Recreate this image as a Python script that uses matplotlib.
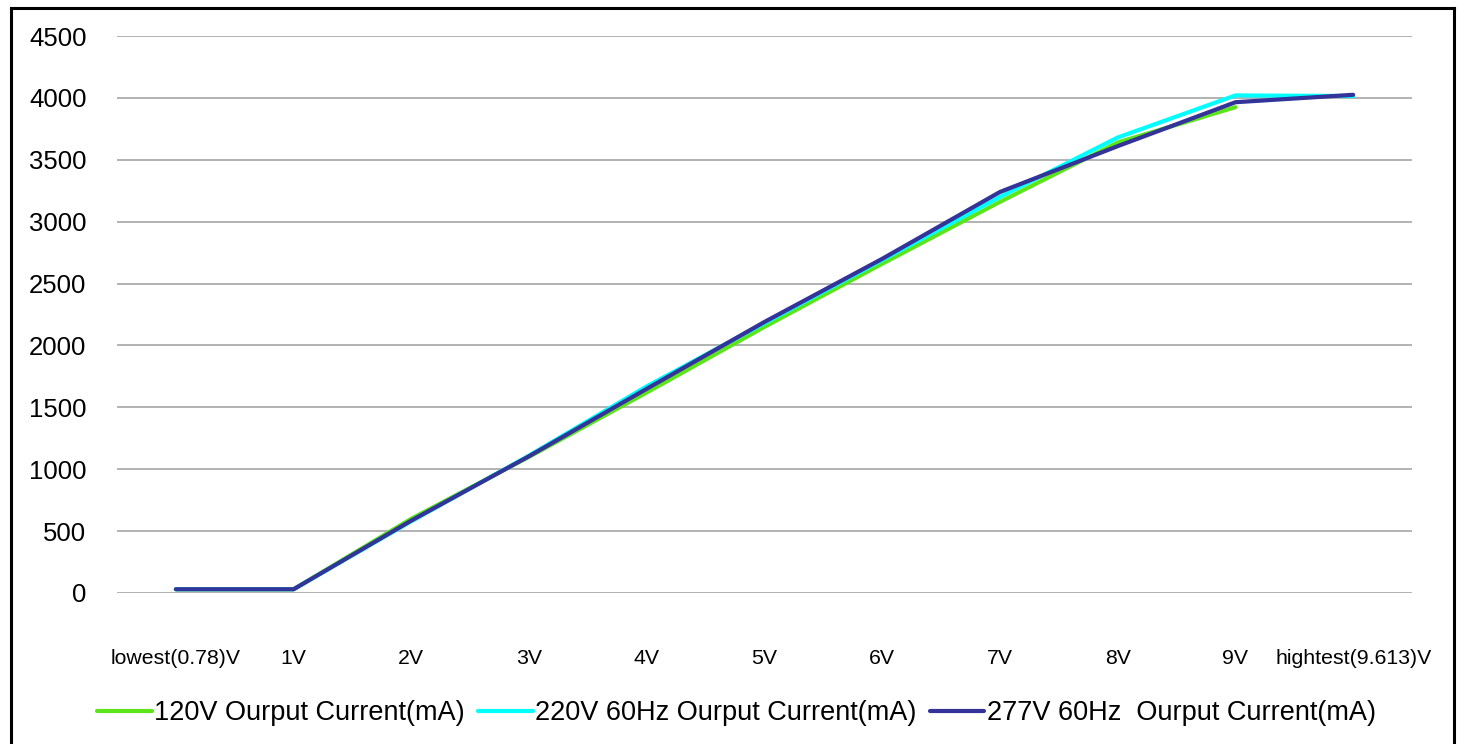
import matplotlib
matplotlib.use("Agg")
import matplotlib.pyplot as plt
import numpy as np
from matplotlib.lines import Line2D

plt.rcParams['font.family'] = ['Liberation Sans', 'DejaVu Sans']

# x categories (dimming voltage)
labels = ["lowest(0.78)V", "1V", "2V", "3V", "4V", "5V", "6V", "7V", "8V", "9V", "hightest(9.613)V"]

# output current in mA
i120 = [30, 30, 600, 1100, 1620, 2150, 2660, 3160, 3640, 3925, np.nan]
i220 = [30, 30, 580, 1110, 1670, 2180, 2690, 3200, 3680, 4020, 4015]
i277 = [30, 30, 585, 1105, 1650, 2190, 2700, 3240, 3610, 3965, 4025]

names = ["120V Ourput Current(mA)", "220V 60Hz Ourput Current(mA)", "277V 60Hz  Ourput Current(mA)"]
colors = ["#5ce51a", "#00ffff", "#333399"]

fig = plt.figure(figsize=(14.59, 7.44), dpi=100)
ax = fig.add_axes([0.0802, 0.2030, 0.8876, 0.7486])

x = np.arange(len(labels))
for y, c, n in zip([i120, i220, i277], colors, names):
    ax.plot(x, y, color=c, lw=3, solid_capstyle='round', solid_joinstyle='round', label=n)

ax.set_xlim(-0.5, len(labels) - 0.5)
ax.set_ylim(0, 4500)
ax.set_yticks(np.arange(0, 4501, 500))
ax.set_xticks(x)
ax.set_xticklabels(labels, fontsize=15.3)
ax.tick_params(axis='y', length=0, pad=22, labelsize=18.5)
ax.tick_params(axis='x', length=0, pad=40)
ax.grid(axis='y', color='#a6a6a6', lw=1.2)
ax.set_axisbelow(True)
for s in ax.spines.values():
    s.set_visible(False)

fig.legend(loc='center', bbox_to_anchor=(0.505, 0.041), ncol=3, frameon=False,
           fontsize=19.5, handlelength=2.0, handletextpad=0.1, columnspacing=0.5)

# black frame round the chart (no bottom edge visible)
fx0, fx1, fy1 = 10.5 / 1459, 1454 / 1459, 1 - 7.5 / 744
for xs, ys in [([fx0, fx0], [0, fy1]), ([fx0, fx1], [fy1, fy1]), ([fx1, fx1], [fy1, 0])]:
    fig.add_artist(Line2D(xs, ys, color='black', lw=2.2, transform=fig.transFigure))

fig.savefig("out.png", dpi=100)
